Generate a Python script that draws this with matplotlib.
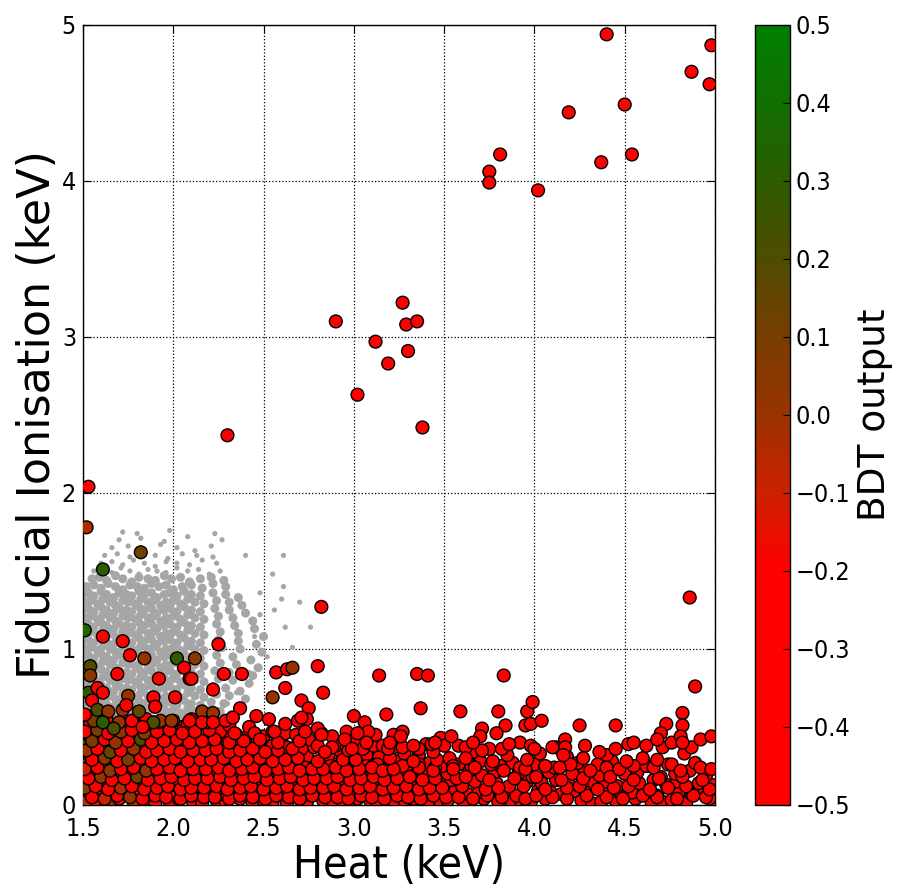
import matplotlib
matplotlib.use('Agg')
import matplotlib.pyplot as plt
from matplotlib.colors import LinearSegmentedColormap

# ---------------- data ----------------
# Grey background cloud: dense core (Heat keV, Ionisation keV)
gray_core_x = [
 1.50,1.53,1.57,1.60,1.64,1.67,1.71,1.74,1.78,1.82,1.85,1.89,1.93,1.97,2.01,2.06,2.11,2.17,
 1.51,1.54,1.58,1.61,1.65,1.68,1.72,1.75,1.79,1.82,1.86,1.89,1.93,1.96,2.00,2.04,2.08,2.12,2.16,2.21,2.26,2.32,
 1.50,1.53,1.56,1.60,1.63,1.67,1.70,1.74,1.77,1.81,1.84,1.88,1.91,1.95,1.98,2.02,2.06,2.10,2.15,2.21,2.28,2.36,
 1.51,1.54,1.58,1.61,1.65,1.68,1.72,1.75,1.79,1.82,1.86,1.89,1.93,1.96,2.00,2.04,2.08,2.12,2.17,2.24,2.31,2.40,
 1.50,1.53,1.56,1.60,1.63,1.67,1.70,1.74,1.77,1.81,1.84,1.88,1.91,1.95,1.98,2.02,2.06,2.10,2.15,2.22,2.29,2.37,
 1.51,1.54,1.58,1.61,1.65,1.68,1.72,1.75,1.79,1.82,1.86,1.89,1.93,1.96,2.00,2.04,2.08,2.12,2.17,2.25,2.33,2.42,
 1.50,1.53,1.56,1.60,1.63,1.67,1.70,1.74,1.77,1.81,1.84,1.88,1.91,1.95,1.98,2.02,2.06,2.10,2.15,2.23,2.31,2.44,
 1.51,1.54,1.58,1.61,1.65,1.68,1.72,1.75,1.79,1.82,1.86,1.89,1.93,1.96,2.00,2.04,2.08,2.12,2.17,2.26,2.35,2.47,
 1.50,1.53,1.56,1.60,1.63,1.67,1.70,1.74,1.77,1.81,1.84,1.88,1.91,1.95,1.98,2.02,2.06,2.10,2.15,2.24,2.33,2.43,
 1.51,1.54,1.58,1.61,1.65,1.68,1.72,1.75,1.79,1.82,1.86,1.89,1.93,1.96,2.00,2.04,2.08,2.12,2.17,2.27,2.37,2.49,
 1.50,1.53,1.56,1.60,1.63,1.67,1.70,1.74,1.77,1.81,1.84,1.88,1.91,1.95,1.98,2.02,2.06,2.10,2.15,2.25,2.36,2.46,
 1.51,1.54,1.58,1.61,1.65,1.68,1.72,1.75,1.79,1.82,1.86,1.89,1.93,1.96,2.00,2.04,2.08,2.12,2.17,2.26,2.36,2.50,
 1.50,1.53,1.56,1.60,1.63,1.67,1.70,1.74,1.77,1.81,1.84,1.88,1.91,1.95,1.98,2.02,2.06,2.10,2.15,2.24,2.34,2.45,
 1.51,1.54,1.58,1.61,1.65,1.68,1.72,1.75,1.79,1.82,1.86,1.89,1.93,1.96,2.00,2.04,2.08,2.12,2.17,2.25,2.33,2.44,
 1.50,1.53,1.56,1.60,1.63,1.67,1.70,1.74,1.77,1.81,1.84,1.88,1.91,1.95,1.98,2.02,2.06,2.10,2.15,2.23,2.31,2.40,
 1.51,1.54,1.58,1.61,1.65,1.68,1.72,1.75,1.79,1.82,1.86,1.89,1.93,1.96,2.00,2.04,2.08,2.12,2.17,2.24,2.31,2.38,
 1.50,1.53,1.56,1.60,1.63,1.67,1.70,1.74,1.77,1.81,1.84,1.88,1.91,1.95,1.98,2.02,2.06,2.10,2.15,2.22,2.29,2.36,
 1.52,1.56,1.60,1.64,1.68,1.72,1.76,1.80,1.84,1.88,1.92,1.96,2.00,2.05,2.10,2.16,2.22,2.29,
 1.55,1.59,1.63,1.68,1.72,1.77,1.81,1.86,1.90,1.95,1.99,2.04,2.09,2.15,2.21,2.28,
]
gray_core_y = [
 .55,.56,.54,.57,.55,.54,.56,.55,.57,.54,.56,.55,.54,.56,.55,.57,.54,.56,
 .60,.61,.59,.62,.60,.58,.61,.60,.59,.62,.60,.61,.58,.60,.61,.59,.62,.60,.59,.61,.60,.58,
 .65,.66,.64,.67,.65,.63,.66,.65,.64,.67,.65,.66,.63,.65,.66,.64,.67,.65,.64,.66,.65,.63,
 .70,.71,.69,.72,.70,.68,.71,.70,.69,.72,.70,.71,.68,.70,.71,.69,.72,.70,.69,.71,.70,.68,
 .75,.76,.74,.77,.75,.73,.76,.75,.74,.77,.75,.76,.73,.75,.76,.74,.77,.75,.74,.76,.75,.73,
 .80,.81,.79,.82,.80,.78,.81,.80,.79,.82,.80,.81,.78,.80,.81,.79,.82,.80,.79,.81,.80,.78,
 .85,.86,.84,.87,.85,.83,.86,.85,.84,.87,.85,.86,.83,.85,.86,.84,.87,.85,.84,.86,.85,.83,
 .90,.91,.89,.92,.90,.88,.91,.90,.89,.92,.90,.91,.88,.90,.91,.89,.92,.90,.89,.91,.90,.88,
 .95,.96,.94,.97,.95,.93,.96,.95,.94,.97,.95,.96,.93,.95,.96,.94,.97,.95,.94,.96,.95,.93,
 1.00,1.01,.99,1.02,1.00,.98,1.01,1.00,.99,1.02,1.00,1.01,.98,1.00,1.01,.99,1.02,1.00,.99,1.01,1.00,.98,
 1.05,1.06,1.04,1.07,1.05,1.03,1.06,1.05,1.04,1.07,1.05,1.06,1.03,1.05,1.06,1.04,1.07,1.05,1.04,1.06,1.05,1.03,
 1.10,1.11,1.09,1.12,1.10,1.08,1.11,1.10,1.09,1.12,1.10,1.11,1.08,1.10,1.11,1.09,1.12,1.10,1.09,1.11,1.10,1.08,
 1.15,1.16,1.14,1.17,1.15,1.13,1.16,1.15,1.14,1.17,1.15,1.16,1.13,1.15,1.16,1.14,1.17,1.15,1.14,1.16,1.15,1.13,
 1.20,1.21,1.19,1.22,1.20,1.18,1.21,1.20,1.19,1.22,1.20,1.21,1.18,1.20,1.21,1.19,1.22,1.20,1.19,1.21,1.20,1.18,
 1.25,1.26,1.24,1.27,1.25,1.23,1.26,1.25,1.24,1.27,1.25,1.26,1.23,1.25,1.26,1.24,1.27,1.25,1.24,1.26,1.25,1.23,
 1.30,1.31,1.29,1.32,1.30,1.28,1.31,1.30,1.29,1.32,1.30,1.31,1.28,1.30,1.31,1.29,1.32,1.30,1.29,1.31,1.30,1.28,
 1.35,1.36,1.34,1.37,1.35,1.33,1.36,1.35,1.34,1.37,1.35,1.36,1.33,1.35,1.36,1.34,1.37,1.35,1.34,1.36,1.35,1.33,
 1.40,1.41,1.39,1.42,1.40,1.38,1.41,1.40,1.39,1.42,1.40,1.41,1.38,1.40,1.41,1.39,1.42,1.40,
 1.45,1.46,1.44,1.47,1.45,1.43,1.46,1.45,1.44,1.47,1.45,1.46,1.43,1.45,1.46,1.44,
]

# Grey background cloud: sparse fringe
gray_fringe_x = [
 1.51,1.55,1.60,1.63,1.68,1.72,1.77,
 1.50,1.54,1.57,1.62,1.66,1.70,1.74,1.79,1.83,
 1.52,1.55,1.59,1.63,1.66,1.70,1.73,1.77,1.81,1.85,1.89,
 1.50,1.54,1.57,1.61,1.64,1.68,1.72,1.75,1.79,1.83,1.87,1.91,1.96,
 1.51,1.55,1.58,1.62,1.65,1.69,1.73,1.76,1.80,1.84,1.88,1.92,1.97,2.02,2.07,
 1.56,1.61,1.66,1.71,1.76,1.81,1.86,1.91,1.96,2.02,2.08,2.14,2.20,2.26,
 1.60,1.66,1.72,1.78,1.84,1.90,1.96,2.02,2.09,2.16,2.24,
 1.62,1.69,1.76,1.83,1.90,1.97,2.05,2.13,2.22,
 1.66,1.75,1.84,1.93,2.02,2.12,2.21,
 1.70,1.82,1.95,2.08,2.27,
 1.72,1.80,1.98,2.23,
 2.61,2.61,2.60,2.62,2.76,2.66,2.52,2.48,2.55,2.40,2.45,2.35,2.30,2.42,2.56,1.50,2.70,2.48,
]
gray_fringe_y = [
 .30,.32,.29,.31,.33,.30,.32,
 .35,.36,.34,.37,.35,.34,.36,.35,.37,
 .40,.41,.39,.42,.40,.41,.39,.40,.42,.41,.39,
 .45,.44,.46,.45,.47,.44,.46,.45,.44,.46,.45,.47,.44,
 .50,.51,.49,.52,.50,.49,.51,.50,.52,.49,.51,.50,.49,.51,.50,
 1.50,1.51,1.49,1.52,1.50,1.48,1.51,1.50,1.49,1.52,1.50,1.51,1.48,1.50,
 1.55,1.56,1.54,1.57,1.55,1.53,1.56,1.55,1.54,1.57,1.55,
 1.60,1.61,1.59,1.62,1.60,1.58,1.61,1.60,1.59,
 1.65,1.66,1.64,1.67,1.65,1.63,1.66,
 1.70,1.71,1.69,1.72,1.70,
 1.75,1.74,1.76,1.74,
 1.60,1.40,1.32,1.14,1.14,1.01,.95,1.22,1.48,1.60,1.08,.72,.65,.85,1.25,.25,1.30,1.36,
]

# Dense band of events at low ionisation (coloured by BDT output), first layer
band_x = [
 1.52,1.57,1.65,1.70,1.78,1.85,1.90,1.98,2.03,2.11,2.16,2.24,2.29,2.37,2.44,2.50,2.55,2.63,2.70,2.74,2.83,2.89,2.94,3.02,3.09,3.13,3.22,3.28,3.33,3.41,3.48,3.52,3.61,3.72,3.80,3.87,3.93,3.98,4.06,4.26,4.32,4.37,4.45,4.56,4.65,4.71,4.76,4.84,4.97,
 1.54,1.61,1.67,1.74,1.81,1.87,1.94,2.00,2.07,2.13,2.20,2.27,2.33,2.40,2.47,2.53,2.60,2.66,2.72,2.79,2.86,2.92,2.98,3.05,3.11,3.18,3.25,3.31,3.37,3.44,3.56,3.63,3.69,3.76,3.83,3.90,4.02,4.09,4.15,4.22,4.29,4.41,4.48,4.54,4.61,4.68,4.80,4.87,4.94,
 1.51,1.58,1.64,1.71,1.77,1.84,1.90,1.97,2.03,2.10,2.16,2.23,2.30,2.36,2.43,2.49,2.56,2.63,2.69,2.76,2.82,2.89,2.95,3.02,3.08,3.15,3.21,3.28,3.35,3.41,3.48,3.54,3.60,3.67,3.79,3.86,3.96,4.04,4.12,4.19,4.33,4.39,4.46,4.58,4.66,4.73,4.79,4.91,4.98,
 1.55,1.62,1.68,1.75,1.82,1.88,1.95,2.01,2.08,2.14,2.21,2.28,2.34,2.41,2.47,2.54,2.61,2.67,2.73,2.80,2.87,2.93,3.00,3.06,3.13,3.19,3.26,3.33,3.39,3.46,3.52,3.64,3.71,3.78,3.91,3.99,4.08,4.21,4.28,4.36,4.50,4.57,4.70,4.78,4.86,4.95,
 1.52,1.59,1.65,1.72,1.78,1.85,1.91,1.98,2.05,2.11,2.18,2.24,2.31,2.38,2.44,2.51,2.57,2.64,2.71,2.77,2.84,2.90,2.97,3.04,3.10,3.17,3.24,3.30,3.42,3.49,3.58,3.70,3.81,3.88,4.00,4.11,4.24,4.35,4.43,4.62,4.74,4.89,
 1.55,1.61,1.68,1.74,1.81,1.88,1.94,2.01,2.07,2.14,2.21,2.27,2.34,2.40,2.47,2.54,2.60,2.67,2.74,2.86,2.93,3.07,3.14,3.28,3.36,3.53,3.66,3.85,4.03,4.18,4.40,4.60,4.83,
 1.51,1.58,1.64,1.71,1.78,1.84,1.91,1.97,2.04,2.11,2.17,2.24,2.31,2.37,2.44,2.52,2.61,2.69,2.78,2.90,3.00,3.11,3.22,3.40,3.58,3.75,3.92,4.28,4.52,4.71,
 1.54,1.61,1.67,1.74,1.81,1.87,1.94,2.00,2.08,2.15,2.22,2.30,2.40,2.50,2.62,2.75,2.88,3.12,3.48,
 1.52,1.59,1.66,1.73,1.80,1.88,1.96,2.04,2.13,2.26,2.42,
]
band_y = [
 .02,.03,.01,.04,.02,.03,.01,.02,.04,.02,
 .01,.03,.02,.04,.01,.03,.02,.01,.04,.02,
 .03,.01,.02,.04,.03,.01,.02,.03,.04,.01,
 .02,.03,.01,.04,.02,.03,.01,.02,.04,.03,
 .01,.02,.03,.04,.01,.02,.03,.01,.04,
 .08,.07,.09,.08,.10,.07,.08,.09,.06,.08,
 .09,.07,.08,.10,.08,.07,.09,.08,.06,.09,
 .08,.10,.07,.08,.09,.07,.08,.10,.06,.08,
 .09,.07,.08,.10,.08,.06,.09,.08,.07,.09,
 .08,.10,.07,.08,.09,.06,.08,.07,.09,
 .14,.15,.13,.16,.14,.12,.15,.14,.13,.16,
 .14,.15,.13,.14,.16,.12,.14,.15,.13,.14,
 .16,.14,.13,.15,.14,.12,.16,.14,.15,.13,
 .14,.16,.13,.15,.14,.12,.15,.14,.16,.13,
 .14,.15,.12,.14,.16,.13,.15,.14,.13,
 .20,.21,.19,.22,.20,.18,.21,.20,.19,.22,
 .20,.21,.19,.20,.22,.18,.20,.21,.19,.20,
 .22,.20,.19,.21,.20,.18,.22,.20,.21,.19,
 .20,.22,.19,.21,.20,.18,.21,.20,.22,.19,
 .20,.21,.18,.20,.22,.19,
 .26,.27,.25,.28,.26,.24,.27,.26,.25,.28,
 .26,.27,.25,.26,.28,.24,.26,.27,.25,.26,
 .28,.26,.25,.27,.26,.24,.28,.26,.27,.25,
 .26,.28,.25,.27,.26,.24,.27,.26,.28,.25,
 .26,.27,
 .32,.33,.31,.34,.32,.30,.33,.32,.31,.34,
 .32,.33,.31,.32,.34,.30,.32,.33,.31,.32,
 .34,.32,.31,.33,.32,.30,.34,.32,.33,.31,
 .32,.30,.33,
 .38,.39,.37,.40,.38,.36,.39,.38,.37,.40,
 .38,.39,.37,.38,.40,.36,.38,.39,.37,.38,
 .40,.38,.37,.39,.38,.36,.40,.38,.39,.37,
 .44,.45,.43,.46,.44,.42,.45,.44,.43,.46,
 .44,.45,.43,.44,.46,.42,.44,.45,.43,
 .50,.51,.49,.52,.50,.48,.51,.50,.49,.52,.50,
]
band_bdt = [
 -.05,-.3,.0,-.3,-.1,-.3,-.3,
 -.3,-.4,-.3,-.3,-.35,-.3,-.4,-.3,-.3,-.3, -.3,-.3,-.4,-.3,-.3,-.3,-.35,-.3,-.3,-.3,
 -.3,-.4,-.3,-.3,-.3,-.3,-.3,-.3,-.4,-.3, -.3,-.3,-.3,-.35,-.3,-.3,-.3,-.4,-.3,-.3, -.3,-.3,
 -.3,.05,-.3,-.1,-.3,.0,
 -.3,-.3,-.4,-.3,-.3,-.3,-.35,-.3,-.3,-.3, -.4,-.3,-.3,-.3,-.3,-.3,-.3,-.4,-.3,-.3,
 -.3,-.3,-.35,-.3,-.3,-.4,-.3,-.3,-.3,-.3, -.3,-.3,-.4,-.3,-.3,-.3,-.3,-.35,-.3,-.3, -.3,-.3,-.3,
 .1,-.3,-.05,-.3,.0,-.3,
 -.3,-.4,-.3,-.3,-.3,-.35,-.3,-.3,-.3,-.4, -.3,-.3,-.3,-.3,-.4,-.3,-.3,-.3,-.3,-.3,
 -.35,-.3,-.3,-.3,-.4,-.3,-.3,-.3,-.3,-.3, -.3,-.4,-.3,-.3,-.3,-.3,-.35,-.3,-.3,-.3, -.3,-.3,-.3,
 -.3,.0,-.3,.1,-.3,-.05,
 -.3,-.3,-.4,-.3,-.3,-.3,-.3,-.35,-.3,-.3, -.4,-.3,-.3,-.3,-.3,-.3,-.3,-.4,-.3,-.3,
 -.3,-.35,-.3,-.3,-.3,-.4,-.3,-.3,-.3,-.3, -.3,-.3,-.4,-.3,-.3,-.3,-.3,-.3,-.35,-.3,
 .15,-.3,.0,-.3,-.05,.05,
 -.3,-.3,-.4,-.3,-.3,-.3,-.35,-.3,-.3,-.3, -.4,-.3,-.3,-.3,-.3,-.3,-.3,-.4,-.3,-.3,
 -.3,-.35,-.3,-.3,-.3,-.4,-.3,-.3,-.3,-.3, -.3,-.3,-.4,-.3,-.3,-.3,
 -.3,.1,-.3,.0,.15,-.3,
 -.3,-.4,-.3,-.3,-.3,-.35,-.3,-.3,-.3,-.4, -.3,-.3,-.3,-.3,-.4,-.3,-.3,-.3,-.3,-.3, -.35,-.3,-.3,-.3,-.4,-.3,-.3,
 .2,-.3,.05,.1,-.3,.0,
 -.3,-.4,-.3,-.3,-.3,-.35,-.3,-.3,-.3,-.4, -.3,-.3,-.3,-.3,-.4,-.3,-.3,-.3,-.3,-.3, -.35,-.3,-.3,-.3,
 .25,.0,-.3,.1,.0,-.3,
 -.3,-.4,-.3,-.3,-.3,-.35,-.3,-.3,-.3,-.4, -.3,-.3,-.3,
 .0,.2,-.3,.05,-.3,.0,
 -.3,-.4,-.3,-.3,-.3,
]

# Dense band, second (interleaved) layer
band2_x = [
 1.55,1.62,1.69,1.76,1.83,1.90,1.96,2.04,2.10,2.17,2.23,2.31,2.37,2.44,2.51,2.57,2.64,2.70,2.77,2.84,2.91,2.97,3.04,3.10,3.17,3.24,3.30,3.37,3.44,3.51,3.58,3.66,3.74,3.82,3.95,4.01,4.10,4.18,4.29,4.40,4.49,4.60,4.68,4.79,4.88,4.95,
 1.51,1.57,1.64,1.71,1.77,1.84,1.91,1.97,2.04,2.10,2.17,2.24,2.30,2.37,2.43,2.50,2.57,2.63,2.70,2.76,2.83,2.89,2.96,3.03,3.09,3.16,3.22,3.29,3.36,3.42,3.49,3.60,3.73,3.80,3.94,4.06,4.18,4.25,4.35,4.44,4.52,4.64,4.74,4.84,4.97,
 1.53,1.60,1.66,1.73,1.80,1.86,1.93,1.99,2.06,2.12,2.19,2.26,2.32,2.39,2.45,2.52,2.59,2.65,2.72,2.78,2.85,2.91,2.98,3.04,3.11,3.17,3.24,3.31,3.38,3.45,3.57,3.62,3.75,3.89,4.01,4.15,4.27,4.42,4.55,4.69,4.82,4.93,
 1.51,1.58,1.65,1.71,1.78,1.85,1.91,1.98,2.04,2.11,2.18,2.25,2.31,2.38,2.44,2.51,2.58,2.64,2.70,2.77,2.83,2.90,2.96,3.03,3.10,3.16,3.22,3.36,3.44,3.55,3.67,3.83,3.95,4.14,4.31,4.47,4.66,4.81,4.98,
 1.55,1.62,1.69,1.75,1.82,1.88,1.95,2.01,2.08,2.15,2.21,2.28,2.35,2.41,2.48,2.55,2.62,2.69,2.80,2.94,3.01,3.20,3.33,3.46,3.62,3.77,3.96,4.27,4.51,4.68,
 1.52,1.58,1.65,1.71,1.78,1.85,1.91,1.98,2.04,2.11,2.18,2.24,2.31,2.37,2.44,2.51,2.58,2.66,2.84,2.97,3.19,3.44,3.71,4.00,4.36,
 1.55,1.62,1.68,1.75,1.82,1.88,1.95,2.02,2.09,2.16,2.23,2.31,2.39,2.48,2.58,2.70,2.95,3.20,
 1.51,1.58,1.64,1.71,1.77,1.84,1.91,1.98,2.05,2.12,2.20,2.34,2.56,
 1.56,1.63,1.70,1.77,1.85,1.92,2.00,2.10,2.19,
]
band2_y = [
 .05,.04,.06,.05,.04,.06,.05,.04,.06,.05, .05,.04,.06,.05,.04,.06,.05,.04,.06,.05,
 .05,.04,.06,.05,.04,.06,.05,.04,.06,.05, .05,.04,.06,.05,.04,.06,.05,.04,.06,.05,
 .04,.06,.05,.04,.06,.05,
 .11,.12,.10,.11,.12,.10,.11,.12,.10,.11, .11,.12,.10,.11,.12,.10,.11,.12,.10,.11,
 .11,.12,.10,.11,.12,.10,.11,.12,.10,.11, .11,.12,.10,.11,.12,.10,.11,.12,.10,.11,
 .12,.10,.11,.12,.10,
 .17,.18,.16,.17,.18,.16,.17,.18,.16,.17, .17,.18,.16,.17,.18,.16,.17,.18,.16,.17,
 .17,.18,.16,.17,.18,.16,.17,.18,.16,.17, .17,.18,.16,.17,.18,.16,.17,.18,.16,.17,
 .18,.16,
 .23,.24,.22,.23,.24,.22,.23,.24,.22,.23, .23,.24,.22,.23,.24,.22,.23,.24,.22,.23,
 .23,.24,.22,.23,.24,.22,.23,.24,.22,.23, .24,.22,.23,.24,.22,.23,.24,.22,.23,
 .29,.30,.28,.29,.30,.28,.29,.30,.28,.29, .29,.30,.28,.29,.30,.28,.29,.30,.28,.29,
 .29,.30,.28,.29,.30,.28,.29,.30,.28,.29,
 .35,.36,.34,.35,.36,.34,.35,.36,.34,.35, .35,.36,.34,.35,.36,.34,.35,.36,.34,.35,
 .36,.34,.35,.36,.34,
 .41,.42,.40,.41,.42,.40,.41,.42,.40,.41,.42,.40,.41,.42,.40,.41,.42,.40,
 .47,.48,.46,.47,.48,.46,.47,.48,.46,.47,.48,.46,.47,
 .54,.55,.53,.54,.55,.53,.54,.55,.53,
]
band2_bdt = [
 -.3,-.1,-.3,.0,-.3,-.3,
 -.3,-.4,-.3,-.3,-.35,-.3,-.4,-.3,-.3,-.3, -.3,-.3,-.4,-.3,-.3,-.3,-.35,-.3,-.3,-.3,
 -.3,-.4,-.3,-.3,-.3,-.3,-.3,-.3,-.4,-.3, -.3,-.3,-.3,-.35,-.3,-.3,-.3,-.4,-.3,-.3,
 .05,-.3,-.3,-.05,-.3,-.3,
 -.3,-.4,-.3,-.3,-.35,-.3,-.4,-.3,-.3,-.3, -.3,-.3,-.4,-.3,-.3,-.3,-.35,-.3,-.3,-.3,
 -.3,-.4,-.3,-.3,-.3,-.3,-.3,-.3,-.4,-.3, -.3,-.3,-.3,-.35,-.3,-.3,-.3,-.4,-.3,
 -.3,.0,-.3,-.3,.1,-.3,
 -.3,-.4,-.3,-.3,-.35,-.3,-.4,-.3,-.3,-.3, -.3,-.3,-.4,-.3,-.3,-.3,-.35,-.3,-.3,-.3,
 -.3,-.4,-.3,-.3,-.3,-.3,-.3,-.3,-.4,-.3, -.3,-.3,-.3,-.35,-.3,-.3,
 -.1,-.3,.05,-.3,-.3,.0,
 -.3,-.4,-.3,-.3,-.35,-.3,-.4,-.3,-.3,-.3, -.3,-.3,-.4,-.3,-.3,-.3,-.35,-.3,-.3,-.3,
 -.3,-.4,-.3,-.3,-.3,-.3,-.3,-.3,-.4,-.3, -.3,-.3,-.3,
 -.3,.05,-.3,.1,-.3,-.3,
 -.3,-.4,-.3,-.3,-.35,-.3,-.4,-.3,-.3,-.3, -.3,-.3,-.4,-.3,-.3,-.3,-.35,-.3,-.3,-.3,
 -.3,-.4,-.3,-.3,
 .0,-.3,.15,-.3,.0,-.3,
 -.3,-.4,-.3,-.3,-.35,-.3,-.4,-.3,-.3,-.3, -.3,-.3,-.4,-.3,-.3,-.3,-.35,-.3,-.3,
 .1,-.3,.0,-.3,.2,-.3,
 -.3,-.4,-.3,-.3,-.35,-.3,-.4,-.3,-.3,-.3, -.3,-.3,
 -.3,.1,-.3,.0,-.3,.05,
 -.3,-.4,-.3,-.3,-.35,-.3,-.4,
 .1,-.3,.0,-.3,-.3,-.3,
 -.3,-.4,-.3,
]

# Dense band, third layer (fills the packed left part)
band3_x = [
 1.55,1.61,1.68,1.74,1.81,1.87,1.94,2.00,2.07,2.13,2.20,2.26,2.33,2.40,2.46,2.53,2.59,2.66,2.72,2.79,2.86,2.92,2.99,3.05,3.12,3.18,3.25,3.32,3.38,3.45,
 1.54,1.61,1.67,1.74,1.80,1.87,1.94,2.00,2.07,2.14,2.20,2.27,2.34,2.40,2.47,2.54,2.60,2.67,2.73,2.80,2.87,2.93,3.00,3.07,3.13,3.20,3.27,3.36,3.45,3.55,3.65,3.76,3.92,4.06,4.20,4.40,4.55,4.76,4.92,
 1.55,1.62,1.68,1.75,1.81,1.88,1.94,2.01,2.08,2.14,2.21,2.28,2.34,2.41,2.48,2.55,2.63,2.71,2.80,2.88,2.96,3.05,3.16,3.27,3.36,3.50,3.62,3.82,3.98,4.12,4.45,4.62,4.87,
 1.57,1.64,1.70,1.77,1.84,1.91,1.97,2.04,2.11,2.18,2.26,2.35,2.45,2.55,2.68,2.82,2.96,3.22,
 1.54,1.62,1.69,1.76,1.84,1.94,2.08,2.20,2.31,
]
band3_y = [
 .12,.13,.11,.12,.13,.11,.12,.13,.11,.12,.13,.11,.12,.13,.11,
 .12,.13,.11,.12,.13,.11,.12,.13,.11,.12,.13,.11,.12,.13,.11,
 .25,.26,.24,.25,.26,.24,.25,.26,.24,.25, .25,.26,.24,.25,.26,.24,.25,.26,.24,.25,
 .25,.26,.24,.25,.26,.24,.25,.26,.24,.25, .25,.26,.24,.25,.26,.24,.25,.26,.24,
 .37,.36,.38,.37,.36,.38,.37,.36,.38,.37, .37,.36,.38,.37,.36,.38,.37,.36,.38,.37,
 .37,.36,.38,.37,.36,.38,.37,.36,.38,.37, .36,.38,.37,
 .46,.47,.45,.46,.47,.45,.46,.47,.45,.46,.47,.45,.46,.47,.45,.46,.47,.45,
 .52,.53,.51,.52,.53,.51,.52,.53,.51,
]
band3_bdt = [
 -.3,.05,-.3,-.05,-.3,
 -.3,-.4,-.3,-.3,-.35,-.3,-.4,-.3,-.3,-.3, -.3,-.3,-.4,-.3,-.3,-.3,-.35,-.3,-.3,-.3, -.3,-.4,-.3,-.3,-.3,
 .0,-.3,-.3,.1,-.3,
 -.3,-.4,-.3,-.3,-.35,-.3,-.4,-.3,-.3,-.3, -.3,-.3,-.4,-.3,-.3,-.3,-.35,-.3,-.3,-.3,
 -.3,-.4,-.3,-.3,-.3,-.3,-.3,-.3,-.4,-.3, -.3,-.3,-.3,-.35,
 -.3,.1,.0,-.3,.05,
 -.3,-.4,-.3,-.3,-.35,-.3,-.4,-.3,-.3,-.3, -.3,-.3,-.4,-.3,-.3,-.3,-.35,-.3,-.3,-.3,
 -.3,-.4,-.3,-.3,-.3,-.3,-.3,-.3,
 .15,-.3,.0,-.3,.1,
 -.3,-.4,-.3,-.3,-.35,-.3,-.4,-.3,-.3,-.3, -.3,-.3,-.4,
 -.3,.0,.1,-.3,.0,
 -.3,-.4,-.3,-.3,
]

# Individually visible events
red_x = [
 4.40,4.98,4.87,4.97,4.50,4.19,4.54,4.37,3.81,3.75,3.75,4.02,
 3.27,2.90,3.29,3.35,3.12,3.30,3.19,3.02,3.38,2.30,1.53,
 1.52,1.82,1.61,1.51,1.61,1.72,1.76,1.84,2.02,2.12,2.25,2.82,4.86,
 1.54,1.54,1.69,1.92,2.06,2.09,2.10,2.28,2.38,2.22,2.57,2.63,2.66,2.80,2.83,2.62,2.55,2.71,2.75,2.37,
 2.01,1.89,1.90,1.75,1.81,1.53,1.58,1.61,1.55,1.58,1.64,1.72,1.74,2.16,2.22,2.29,2.33,2.46,2.53,2.62,
 2.69,2.74,2.80,1.61,1.67,1.51,1.93,1.99,1.89,1.83,2.09,2.16,2.22,
 3.14,3.35,3.41,3.83,4.89,3.00,3.06,3.08,3.18,3.37,3.59,3.80,3.96,3.99,3.95,3.98,4.04,3.84,4.25,4.45,
 4.55,4.73,4.82,4.82,4.70,4.68,4.76,4.81,4.82,4.92,4.98,4.17,4.17,4.16,4.10,3.86,3.79,3.71,3.70,3.66,
 3.54,3.27,3.26,3.33,3.43,3.45,3.02,3.07,2.99,2.71,2.73,2.82,
]
red_y = [
 4.94,4.87,4.70,4.62,4.49,4.44,4.17,4.12,4.17,4.06,3.99,3.94,
 3.22,3.10,3.08,3.10,2.97,2.91,2.83,2.63,2.42,2.37,2.04,
 1.78,1.62,1.51,1.12,1.08,1.05,0.96,0.94,0.94,0.94,1.03,1.27,1.33,
 0.89,0.83,0.84,0.81,0.88,0.81,0.81,0.84,0.84,0.74,0.85,0.87,0.88,0.89,0.72,0.75,0.69,0.67,0.62,0.62,
 0.69,0.69,0.63,0.70,0.60,0.72,0.75,0.72,0.67,0.61,0.60,0.61,0.64,0.60,0.59,0.54,0.56,0.57,0.55,0.52,
 0.54,0.55,0.49,0.53,0.49,0.58,0.54,0.54,0.53,0.50,0.54,0.53,0.53,
 0.83,0.84,0.83,0.83,0.76,0.57,0.53,0.47,0.58,0.62,0.60,0.60,0.60,0.66,0.51,0.52,0.54,0.51,0.51,0.51,
 0.40,0.52,0.59,0.51,0.46,0.42,0.40,0.44,0.40,0.42,0.44,0.42,0.37,0.32,0.37,0.39,0.46,0.49,0.44,0.40,
 0.44,0.47,0.44,0.38,0.39,0.40,0.46,0.40,0.36,0.56,0.47,0.45,
]
red_bdt = [
 -.3,-.3,-.3,-.3,-.3,-.3,-.3,-.3,-.3,-.3,-.3,-.3,
 -.3,-.3,-.3,-.3,-.3,-.3,-.3,-.3,-.3,-.3,-.3,
 -.05,.12,.3,.35,-.3,-.3,-.3,.0,.3,.05,-.3,-.3,-.3,
 .2,.05,-.3,-.3,-.3,-.3,-.3,-.3,-.3,-.3,-.3,-.3,.0,-.3,-.3,-.3,.0,-.3,-.3,-.3,
 -.3,-.3,-.3,.0,.15,.3,-.3,-.3,-.3,.2,.0,.0,-.3,.0,.0,-.3,-.3,-.3,-.3,-.3,
 -.3,-.3,-.3,.3,.2,-.3,.0,.0,.2,-.3,-.3,-.3,-.3,
 -.3,-.3,-.3,-.3,-.3,-.3,-.3,-.3,-.3,-.3,-.3,-.3,-.3,-.3,-.3,-.3,-.3,-.3,-.3,-.3,
 -.3,-.3,-.3,-.3,-.3,-.3,-.3,-.3,-.3,-.3,-.3,-.3,-.3,-.3,-.3,-.3,-.3,-.3,-.3,-.3,
 -.3,-.3,-.3,-.3,-.3,-.3,-.3,-.3,-.3,-.3,-.3,-.3,
]

x_ticks = [1.5, 2.0, 2.5, 3.0, 3.5, 4.0, 4.5, 5.0]
y_ticks = [0, 1, 2, 3, 4, 5]
cb_ticks = [-0.5, -0.4, -0.3, -0.2, -0.1, 0.0, 0.1, 0.2, 0.3, 0.4, 0.5]


def _match(a, b, c=None):
    n = min(len(a), len(b)) if c is None else min(len(a), len(b), len(c))
    return (a[:n], b[:n]) if c is None else (a[:n], b[:n], c[:n])


gcx, gcy = _match(gray_core_x, gray_core_y)
gfx, gfy = _match(gray_fringe_x, gray_fringe_y)
bx, by, bc = _match(band_x, band_y, band_bdt)
b2x, b2y, b2c = _match(band2_x, band2_y, band2_bdt)
b3x, b3y, b3c = _match(band3_x, band3_y, band3_bdt)
rx, ry, rc = _match(red_x, red_y, red_bdt)

# ---------------- plot ----------------
plt.rcParams['font.family'] = ['DejaVu Sans']
plt.rcParams['font.stretch'] = 'condensed'

W, H = 897, 890
fig = plt.figure(figsize=(W / 100, H / 100), dpi=100, facecolor='white')
ax = fig.add_axes([83 / W, 85 / H, 632 / W, 780 / H])
cax = fig.add_axes([755 / W, 85 / H, 35 / W, 780 / H])

cmap = LinearSegmentedColormap.from_list('bdt', [
    (0.0, '#ff0000'), (0.3, '#ff0000'), (0.4, '#cc2000'), (0.5, '#993300'),
    (0.6, '#783d00'), (0.7, '#4f4c00'), (0.8, '#2d5c00'), (0.9, '#126e00'),
    (1.0, '#007f00')])

ax.set_axisbelow(True)
grey = '#a6a6a6'
ax.scatter(gcx, gcy, s=42, c=grey, edgecolors='none', zorder=2)
ax.scatter(gfx, gfy, s=14, c=grey, edgecolors='none', zorder=2)
sc = ax.scatter(bx + b3x + b2x + rx, by + b3y + b2y + ry,
                c=bc + b3c + b2c + rc, cmap=cmap,
                vmin=-0.5, vmax=0.5, s=85, edgecolors='black',
                linewidths=1.0, zorder=3)

ax.set_xlim(1.5, 5.0)
ax.set_ylim(0, 5)
ax.set_xticks(x_ticks)
ax.set_yticks(y_ticks)
ax.set_xticklabels(['%.1f' % v for v in x_ticks])
ax.set_yticklabels(['%d' % v for v in y_ticks])
ax.grid(True, color='black', linestyle=':', linewidth=0.9)
ax.tick_params(direction='in', length=6, width=0.8, top=True, right=True,
               labelsize=18)
ax.tick_params(axis='x', pad=9)
ax.tick_params(axis='y', pad=5)
for sp in ax.spines.values():
    sp.set_linewidth(1.0)

ax.set_xlabel('Heat (keV)', fontsize=32, labelpad=2)
ax.set_ylabel('Fiducial Ionisation (keV)', fontsize=32, labelpad=2,
              fontstretch='normal')

cb = fig.colorbar(sc, cax=cax, ticks=cb_ticks)
cb.ax.set_yticklabels([('%.1f' % v).replace('-', '\u2212') for v in cb_ticks])
cb.ax.tick_params(direction='in', length=5, width=0.8, labelsize=18, pad=4)
cb.outline.set_linewidth(1.0)
cb.set_label('BDT output', fontsize=27, labelpad=5, fontstretch='normal')

fig.savefig('out.png', dpi=100, facecolor='white')
